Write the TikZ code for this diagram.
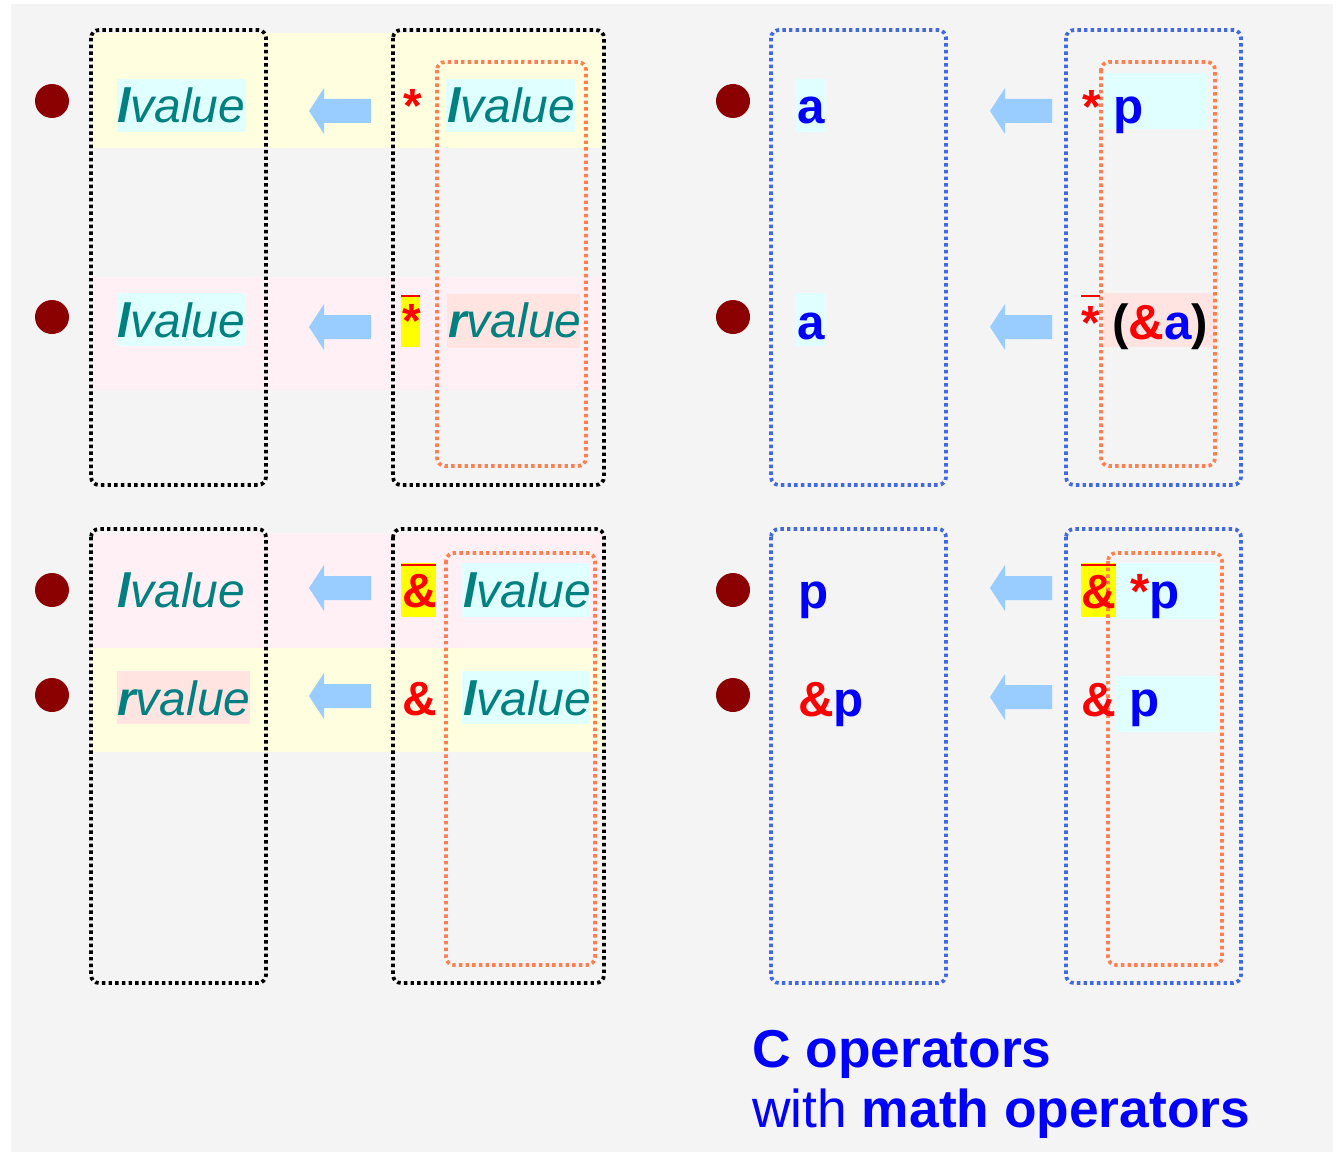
\documentclass[tikz,border=0pt]{standalone}
\usepackage{fontspec}
\setmainfont{Liberation Sans}
\usetikzlibrary{calc}

\definecolor{bggray}{HTML}{F4F4F4}
\definecolor{bandyellow}{HTML}{FFFFE0}
\definecolor{bandpink}{HTML}{FFF0F5}
\definecolor{lvbg}{HTML}{E0FFFF}
\definecolor{rvbg}{HTML}{FFE4E1}
\definecolor{valteal}{HTML}{008080}
\definecolor{arrowblue}{HTML}{99CCFF}
\definecolor{bulletred}{HTML}{8B0000}
\definecolor{boxorange}{HTML}{FF7F50}
\definecolor{boxblue}{HTML}{4169E1}
\definecolor{opred}{HTML}{FF0000}
\definecolor{varblue}{HTML}{0000FF}
\definecolor{opyellow}{HTML}{FFFF00}

\begin{document}
\begin{tikzpicture}[x=0.75pt, y=-0.75pt,
    dotbox/.style={line width=2.8pt, dash pattern=on 2.6pt off 2.4pt, rounded corners=6pt},
    valtxt/.style={anchor=base west, inner sep=0pt, text=valteal, font=\fontsize{36}{40}\selectfont\itshape},
    vartxt/.style={anchor=base west, inner sep=0pt, text=varblue, font=\fontsize{37}{40}\selectfont\bfseries},
    optxt/.style={anchor=base west, inner sep=0pt, text=opred, font=\fontsize{36}{40}\selectfont\bfseries},
    oline/.style={opred, line width=2.2pt}]

    % 全体の範囲と背景
    \useasboundingbox (0,0) rectangle (1341,1152);
    \fill[bggray] (11,4) rectangle (1333,1152);

    % 行の帯 (左側)
    \fill[bandyellow] (91,33) rectangle (603,148);
    \fill[bandpink] (91,277) rectangle (603,390);
    \fill[bandpink] (91,533) rectangle (603,648);
    \fill[bandyellow] (91,648) rectangle (603,752);

    % 文字の背景
    \fill[lvbg] (117,79) rectangle (246,132);
    \fill[lvbg] (446,79) rectangle (575,132);
    \fill[lvbg] (117,293) rectangle (246,346);
    \fill[opyellow] (401,295) rectangle (420,347);
    \fill[rvbg] (447,294) rectangle (580,348);
    \fill[opyellow] (401,563) rectangle (436,617);
    \fill[lvbg] (462,563) rectangle (590,617);
    \fill[rvbg] (117,671) rectangle (250,724);
    \fill[lvbg] (462,671) rectangle (590,724);

    \fill[lvbg] (795,79) rectangle (826,132);
    \fill[lvbg] (1104,73) rectangle (1208,129);
    \fill[lvbg] (795,293) rectangle (826,346);
    \fill[rvbg] (1104,293) rectangle (1215,347);
    \fill[opyellow] (1081,563) rectangle (1116,617);
    \fill[lvbg] (1116,563) rectangle (1218,619);
    \fill[lvbg] (1116,676) rectangle (1218,732);

    % 点線の枠
    \draw[dotbox, black] (91,30) rectangle (266,485);
    \draw[dotbox, black] (393,30) rectangle (604,485);
    \draw[dotbox, boxorange] (437,62) rectangle (586,466);
    \draw[dotbox, black] (91,529) rectangle (266,983);
    \draw[dotbox, black] (393,529) rectangle (604,983);
    \draw[dotbox, boxorange] (446,553) rectangle (595,965);

    \draw[dotbox, boxblue] (771,30) rectangle (946,485);
    \draw[dotbox, boxblue] (1066,30) rectangle (1241,485);
    \draw[dotbox, boxorange] (1101,62) rectangle (1215,466);
    \draw[dotbox, boxblue] (771,529) rectangle (946,983);
    \draw[dotbox, boxblue] (1066,529) rectangle (1241,983);
    \draw[dotbox, boxorange] (1108,553) rectangle (1222,965);

    % 丸印
    \fill[bulletred] (52,101) circle (12.75pt);
    \fill[bulletred] (52,317) circle (12.75pt);
    \fill[bulletred] (52,590) circle (12.75pt);
    \fill[bulletred] (52,695) circle (12.75pt);
    \fill[bulletred] (733,101) circle (12.75pt);
    \fill[bulletred] (733,317) circle (12.75pt);
    \fill[bulletred] (733,590) circle (12.75pt);
    \fill[bulletred] (733,695) circle (12.75pt);

    % 左向きの矢印
    \fill[arrowblue] (309,111) -- ++(15,-23) -- ++(0,11) -- ++(47,0) -- ++(0,24) -- ++(-47,0) -- ++(0,11) -- cycle;
    \fill[arrowblue] (309,327) -- ++(15,-23) -- ++(0,11) -- ++(47,0) -- ++(0,24) -- ++(-47,0) -- ++(0,11) -- cycle;
    \fill[arrowblue] (309,588) -- ++(15,-23) -- ++(0,11) -- ++(47,0) -- ++(0,24) -- ++(-47,0) -- ++(0,11) -- cycle;
    \fill[arrowblue] (309,696) -- ++(15,-23) -- ++(0,11) -- ++(47,0) -- ++(0,24) -- ++(-47,0) -- ++(0,11) -- cycle;
    \fill[arrowblue] (990,111) -- ++(15,-23) -- ++(0,11) -- ++(47,0) -- ++(0,24) -- ++(-47,0) -- ++(0,11) -- cycle;
    \fill[arrowblue] (990,327) -- ++(15,-23) -- ++(0,11) -- ++(47,0) -- ++(0,24) -- ++(-47,0) -- ++(0,11) -- cycle;
    \fill[arrowblue] (990,588) -- ++(15,-23) -- ++(0,11) -- ++(47,0) -- ++(0,24) -- ++(-47,0) -- ++(0,11) -- cycle;
    \fill[arrowblue] (990,697) -- ++(15,-23) -- ++(0,11) -- ++(47,0) -- ++(0,24) -- ++(-47,0) -- ++(0,11) -- cycle;

    % 左: lvalue / rvalue
    \node[valtxt] (lhsA) at (117,123) {\textbf{l}value};
    \node[optxt] (opA) at (403,123) {*};
    \node[valtxt] (rhsA) at (447,123) {\textbf{l}value};

    \node[valtxt] (lhsB) at (117,337) {\textbf{l}value};
    \node[optxt] (opB) at (402,337) {*};
    \node[valtxt] (rhsB) at (448,337) {\textbf{r}value};

    \node[valtxt] (lhsC) at (117,607) {\textbf{l}value};
    \node[optxt] (opC) at (402,607) {\&};
    \node[valtxt] (rhsC) at (463,607) {\textbf{l}value};

    \node[valtxt] (lhsD) at (117,715) {\textbf{r}value};
    \node[optxt] (opD) at (402,715) {\&};
    \node[valtxt] (rhsD) at (463,715) {\textbf{l}value};

    % 右: a, p
    \node[vartxt] (lhsE) at (797,124) {a};
    \node[optxt] (opE) at (1082,124) {*};
    \node[vartxt] (rhsE) at (1113,124) {p};

    \node[vartxt] (lhsF) at (797,339) {a};
    \node[optxt] (opF) at (1081,339) {*};
    \node[vartxt, text=black] (rhsF) at (1112,339) {(\textcolor{opred}{\&}\textcolor{varblue}{a})};

    \node[vartxt] (lhsG) at (798,608) {p};
    \node[optxt] (opG) at (1081,608) {\&};
    \node[vartxt] (rhsG) at (1130,608) {\textcolor{opred}{*}p};

    \node[vartxt] (lhsH) at (798,716) {\textcolor{opred}{\&}p};
    \node[optxt] (opH) at (1081,716) {\&};
    \node[vartxt] (rhsH) at (1129,716) {p};

    % 上線
    \draw[oline] (401,296) -- (420,296);
    \draw[oline] (401,565) -- (436,565);
    \draw[oline] (1081,296) -- (1100,296);
    \draw[oline] (1081,565) -- (1116,565);

    % 表題
    \node[anchor=base west, inner sep=0pt, text=varblue, font=\fontsize{40}{44}\selectfont\bfseries] (titleA) at (752,1067) {C operators};
    \node[anchor=base west, inner sep=0pt, text=varblue, font=\fontsize{40}{44}\selectfont] (titleB) at (752,1127) {with \textbf{math operators}};

\end{tikzpicture}
\end{document}
